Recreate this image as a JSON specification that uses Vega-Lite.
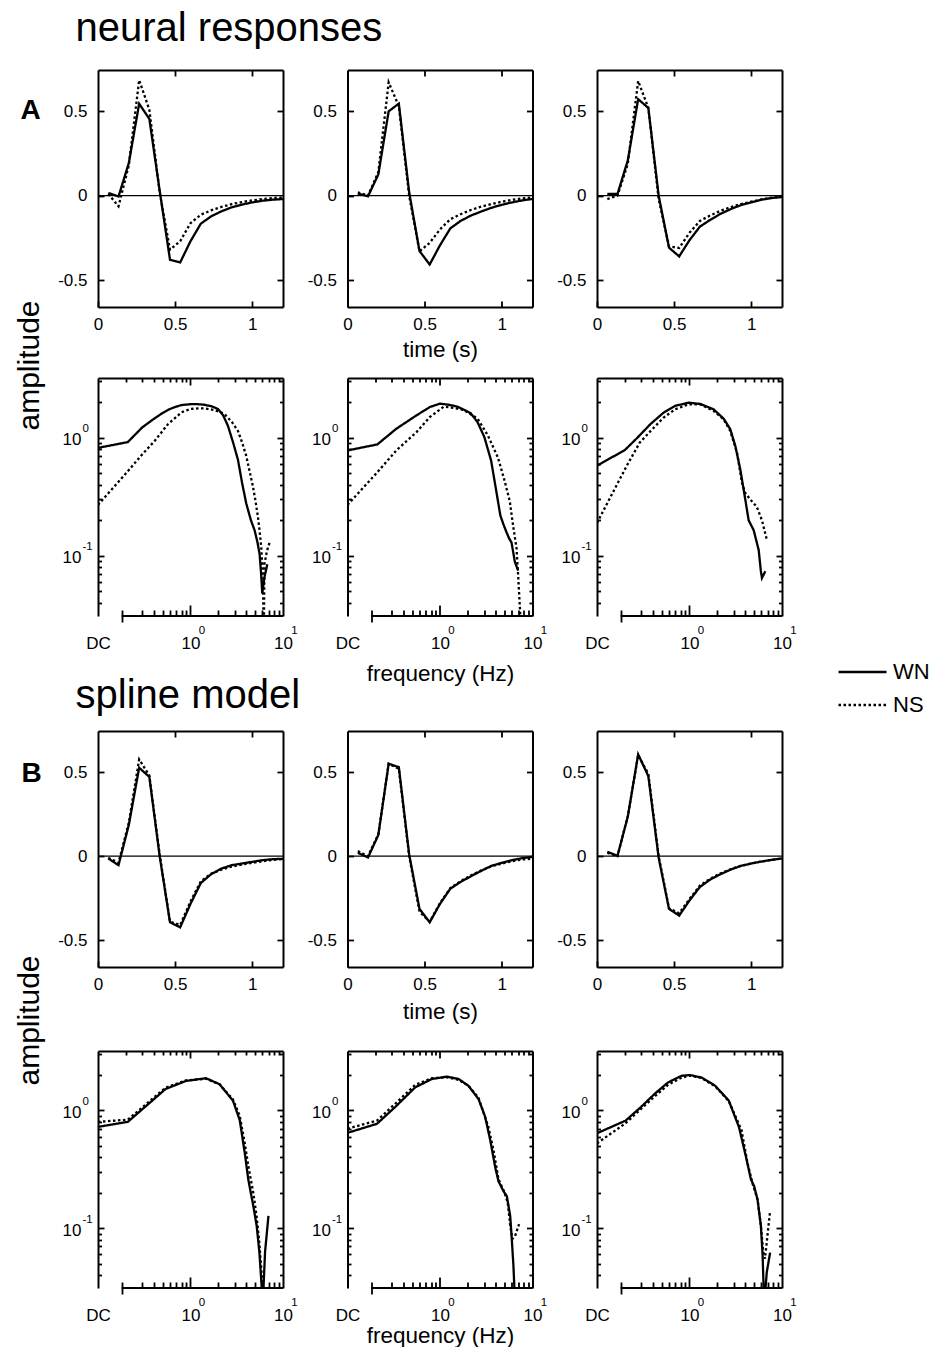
{
"$schema":"https://vega.github.io/schema/vega-lite/v6.json",
"background":"white",
"padding":{"left":14,"top":8,"right":0,"bottom":0},
"autosize":{"type":"pad"},
"columns":3,
"spacing":{"row":0,"column":64.5},
"bounds":"flush",
"datasets":{
"t":[
{"p":"A1","s":"WN","x":0.067,"y":0.016},{"p":"A1","s":"WN","x":0.133,"y":-0.005},{"p":"A1","s":"WN","x":0.2,"y":0.194},{"p":"A1","s":"WN","x":0.267,"y":0.545},{"p":"A1","s":"WN","x":0.333,"y":0.455},{"p":"A1","s":"WN","x":0.4,"y":0.03},{"p":"A1","s":"WN","x":0.467,"y":-0.38},{"p":"A1","s":"WN","x":0.533,"y":-0.396},{"p":"A1","s":"WN","x":0.6,"y":-0.27},{"p":"A1","s":"WN","x":0.667,"y":-0.166},{"p":"A1","s":"WN","x":0.733,"y":-0.123},{"p":"A1","s":"WN","x":0.8,"y":-0.093},{"p":"A1","s":"WN","x":0.867,"y":-0.069},{"p":"A1","s":"WN","x":0.933,"y":-0.053},{"p":"A1","s":"WN","x":1.0,"y":-0.04},{"p":"A1","s":"WN","x":1.067,"y":-0.03},{"p":"A1","s":"WN","x":1.133,"y":-0.024},{"p":"A1","s":"WN","x":1.2,"y":-0.02},
{"p":"A1","s":"NS","x":0.067,"y":0.01},{"p":"A1","s":"NS","x":0.133,"y":-0.063},{"p":"A1","s":"NS","x":0.2,"y":0.18},{"p":"A1","s":"NS","x":0.267,"y":0.685},{"p":"A1","s":"NS","x":0.333,"y":0.51},{"p":"A1","s":"NS","x":0.4,"y":0.02},{"p":"A1","s":"NS","x":0.467,"y":-0.32},{"p":"A1","s":"NS","x":0.533,"y":-0.27},{"p":"A1","s":"NS","x":0.6,"y":-0.163},{"p":"A1","s":"NS","x":0.667,"y":-0.113},{"p":"A1","s":"NS","x":0.733,"y":-0.087},{"p":"A1","s":"NS","x":0.8,"y":-0.067},{"p":"A1","s":"NS","x":0.867,"y":-0.05},{"p":"A1","s":"NS","x":0.933,"y":-0.038},{"p":"A1","s":"NS","x":1.0,"y":-0.028},{"p":"A1","s":"NS","x":1.067,"y":-0.02},{"p":"A1","s":"NS","x":1.133,"y":-0.014},{"p":"A1","s":"NS","x":1.2,"y":-0.01},
{"p":"A2","s":"WN","x":0.067,"y":0.012},{"p":"A2","s":"WN","x":0.133,"y":-0.004},{"p":"A2","s":"WN","x":0.2,"y":0.126},{"p":"A2","s":"WN","x":0.267,"y":0.5},{"p":"A2","s":"WN","x":0.333,"y":0.546},{"p":"A2","s":"WN","x":0.4,"y":0.02},{"p":"A2","s":"WN","x":0.467,"y":-0.328},{"p":"A2","s":"WN","x":0.533,"y":-0.408},{"p":"A2","s":"WN","x":0.6,"y":-0.294},{"p":"A2","s":"WN","x":0.667,"y":-0.194},{"p":"A2","s":"WN","x":0.733,"y":-0.15},{"p":"A2","s":"WN","x":0.8,"y":-0.118},{"p":"A2","s":"WN","x":0.867,"y":-0.094},{"p":"A2","s":"WN","x":0.933,"y":-0.072},{"p":"A2","s":"WN","x":1.0,"y":-0.054},{"p":"A2","s":"WN","x":1.067,"y":-0.04},{"p":"A2","s":"WN","x":1.133,"y":-0.028},{"p":"A2","s":"WN","x":1.2,"y":-0.02},
{"p":"A2","s":"NS","x":0.067,"y":0.02},{"p":"A2","s":"NS","x":0.133,"y":0.0},{"p":"A2","s":"NS","x":0.2,"y":0.14},{"p":"A2","s":"NS","x":0.267,"y":0.672},{"p":"A2","s":"NS","x":0.333,"y":0.53},{"p":"A2","s":"NS","x":0.4,"y":0.0},{"p":"A2","s":"NS","x":0.467,"y":-0.33},{"p":"A2","s":"NS","x":0.533,"y":-0.28},{"p":"A2","s":"NS","x":0.6,"y":-0.2},{"p":"A2","s":"NS","x":0.667,"y":-0.14},{"p":"A2","s":"NS","x":0.733,"y":-0.11},{"p":"A2","s":"NS","x":0.8,"y":-0.085},{"p":"A2","s":"NS","x":0.867,"y":-0.065},{"p":"A2","s":"NS","x":0.933,"y":-0.05},{"p":"A2","s":"NS","x":1.0,"y":-0.036},{"p":"A2","s":"NS","x":1.067,"y":-0.025},{"p":"A2","s":"NS","x":1.133,"y":-0.016},{"p":"A2","s":"NS","x":1.2,"y":-0.01},
{"p":"A3","s":"WN","x":0.067,"y":0.01},{"p":"A3","s":"WN","x":0.133,"y":0.01},{"p":"A3","s":"WN","x":0.2,"y":0.21},{"p":"A3","s":"WN","x":0.267,"y":0.572},{"p":"A3","s":"WN","x":0.333,"y":0.52},{"p":"A3","s":"WN","x":0.4,"y":0.0},{"p":"A3","s":"WN","x":0.467,"y":-0.308},{"p":"A3","s":"WN","x":0.533,"y":-0.36},{"p":"A3","s":"WN","x":0.6,"y":-0.264},{"p":"A3","s":"WN","x":0.667,"y":-0.184},{"p":"A3","s":"WN","x":0.733,"y":-0.144},{"p":"A3","s":"WN","x":0.8,"y":-0.108},{"p":"A3","s":"WN","x":0.867,"y":-0.08},{"p":"A3","s":"WN","x":0.933,"y":-0.056},{"p":"A3","s":"WN","x":1.0,"y":-0.04},{"p":"A3","s":"WN","x":1.067,"y":-0.024},{"p":"A3","s":"WN","x":1.133,"y":-0.014},{"p":"A3","s":"WN","x":1.2,"y":-0.008},
{"p":"A3","s":"NS","x":0.067,"y":-0.02},{"p":"A3","s":"NS","x":0.133,"y":0.0},{"p":"A3","s":"NS","x":0.2,"y":0.19},{"p":"A3","s":"NS","x":0.267,"y":0.68},{"p":"A3","s":"NS","x":0.333,"y":0.52},{"p":"A3","s":"NS","x":0.4,"y":-0.02},{"p":"A3","s":"NS","x":0.467,"y":-0.3},{"p":"A3","s":"NS","x":0.533,"y":-0.31},{"p":"A3","s":"NS","x":0.6,"y":-0.22},{"p":"A3","s":"NS","x":0.667,"y":-0.15},{"p":"A3","s":"NS","x":0.733,"y":-0.118},{"p":"A3","s":"NS","x":0.8,"y":-0.09},{"p":"A3","s":"NS","x":0.867,"y":-0.068},{"p":"A3","s":"NS","x":0.933,"y":-0.05},{"p":"A3","s":"NS","x":1.0,"y":-0.036},{"p":"A3","s":"NS","x":1.067,"y":-0.022},{"p":"A3","s":"NS","x":1.133,"y":-0.012},{"p":"A3","s":"NS","x":1.2,"y":-0.005},
{"p":"B1","s":"WN","x":0.067,"y":-0.014},{"p":"B1","s":"WN","x":0.133,"y":-0.054},{"p":"B1","s":"WN","x":0.2,"y":0.186},{"p":"B1","s":"WN","x":0.267,"y":0.526},{"p":"B1","s":"WN","x":0.333,"y":0.472},{"p":"B1","s":"WN","x":0.4,"y":0.0},{"p":"B1","s":"WN","x":0.467,"y":-0.394},{"p":"B1","s":"WN","x":0.533,"y":-0.424},{"p":"B1","s":"WN","x":0.6,"y":-0.284},{"p":"B1","s":"WN","x":0.667,"y":-0.16},{"p":"B1","s":"WN","x":0.733,"y":-0.108},{"p":"B1","s":"WN","x":0.8,"y":-0.074},{"p":"B1","s":"WN","x":0.867,"y":-0.054},{"p":"B1","s":"WN","x":0.933,"y":-0.044},{"p":"B1","s":"WN","x":1.0,"y":-0.034},{"p":"B1","s":"WN","x":1.067,"y":-0.024},{"p":"B1","s":"WN","x":1.133,"y":-0.018},{"p":"B1","s":"WN","x":1.2,"y":-0.016},
{"p":"B1","s":"NS","x":0.067,"y":-0.01},{"p":"B1","s":"NS","x":0.133,"y":-0.04},{"p":"B1","s":"NS","x":0.2,"y":0.2},{"p":"B1","s":"NS","x":0.267,"y":0.576},{"p":"B1","s":"NS","x":0.333,"y":0.48},{"p":"B1","s":"NS","x":0.4,"y":0.01},{"p":"B1","s":"NS","x":0.467,"y":-0.39},{"p":"B1","s":"NS","x":0.533,"y":-0.41},{"p":"B1","s":"NS","x":0.6,"y":-0.27},{"p":"B1","s":"NS","x":0.667,"y":-0.15},{"p":"B1","s":"NS","x":0.733,"y":-0.105},{"p":"B1","s":"NS","x":0.8,"y":-0.08},{"p":"B1","s":"NS","x":0.867,"y":-0.062},{"p":"B1","s":"NS","x":0.933,"y":-0.05},{"p":"B1","s":"NS","x":1.0,"y":-0.04},{"p":"B1","s":"NS","x":1.067,"y":-0.03},{"p":"B1","s":"NS","x":1.133,"y":-0.022},{"p":"B1","s":"NS","x":1.2,"y":-0.018},
{"p":"B2","s":"WN","x":0.067,"y":0.02},{"p":"B2","s":"WN","x":0.133,"y":-0.008},{"p":"B2","s":"WN","x":0.2,"y":0.126},{"p":"B2","s":"WN","x":0.267,"y":0.55},{"p":"B2","s":"WN","x":0.333,"y":0.53},{"p":"B2","s":"WN","x":0.4,"y":0.01},{"p":"B2","s":"WN","x":0.467,"y":-0.314},{"p":"B2","s":"WN","x":0.533,"y":-0.394},{"p":"B2","s":"WN","x":0.6,"y":-0.284},{"p":"B2","s":"WN","x":0.667,"y":-0.194},{"p":"B2","s":"WN","x":0.733,"y":-0.154},{"p":"B2","s":"WN","x":0.8,"y":-0.12},{"p":"B2","s":"WN","x":0.867,"y":-0.088},{"p":"B2","s":"WN","x":0.933,"y":-0.058},{"p":"B2","s":"WN","x":1.0,"y":-0.04},{"p":"B2","s":"WN","x":1.067,"y":-0.024},{"p":"B2","s":"WN","x":1.133,"y":-0.012},{"p":"B2","s":"WN","x":1.2,"y":-0.004},
{"p":"B2","s":"NS","x":0.067,"y":0.03},{"p":"B2","s":"NS","x":0.133,"y":0.0},{"p":"B2","s":"NS","x":0.2,"y":0.13},{"p":"B2","s":"NS","x":0.267,"y":0.55},{"p":"B2","s":"NS","x":0.333,"y":0.52},{"p":"B2","s":"NS","x":0.4,"y":0.0},{"p":"B2","s":"NS","x":0.467,"y":-0.33},{"p":"B2","s":"NS","x":0.533,"y":-0.39},{"p":"B2","s":"NS","x":0.6,"y":-0.28},{"p":"B2","s":"NS","x":0.667,"y":-0.19},{"p":"B2","s":"NS","x":0.733,"y":-0.15},{"p":"B2","s":"NS","x":0.8,"y":-0.115},{"p":"B2","s":"NS","x":0.867,"y":-0.085},{"p":"B2","s":"NS","x":0.933,"y":-0.06},{"p":"B2","s":"NS","x":1.0,"y":-0.045},{"p":"B2","s":"NS","x":1.067,"y":-0.03},{"p":"B2","s":"NS","x":1.133,"y":-0.02},{"p":"B2","s":"NS","x":1.2,"y":-0.015},
{"p":"B3","s":"WN","x":0.067,"y":0.026},{"p":"B3","s":"WN","x":0.133,"y":0.002},{"p":"B3","s":"WN","x":0.2,"y":0.236},{"p":"B3","s":"WN","x":0.267,"y":0.606},{"p":"B3","s":"WN","x":0.333,"y":0.476},{"p":"B3","s":"WN","x":0.4,"y":-0.01},{"p":"B3","s":"WN","x":0.467,"y":-0.314},{"p":"B3","s":"WN","x":0.533,"y":-0.354},{"p":"B3","s":"WN","x":0.6,"y":-0.264},{"p":"B3","s":"WN","x":0.667,"y":-0.184},{"p":"B3","s":"WN","x":0.733,"y":-0.14},{"p":"B3","s":"WN","x":0.8,"y":-0.108},{"p":"B3","s":"WN","x":0.867,"y":-0.08},{"p":"B3","s":"WN","x":0.933,"y":-0.058},{"p":"B3","s":"WN","x":1.0,"y":-0.044},{"p":"B3","s":"WN","x":1.067,"y":-0.032},{"p":"B3","s":"WN","x":1.133,"y":-0.022},{"p":"B3","s":"WN","x":1.2,"y":-0.014},
{"p":"B3","s":"NS","x":0.067,"y":0.02},{"p":"B3","s":"NS","x":0.133,"y":0.0},{"p":"B3","s":"NS","x":0.2,"y":0.24},{"p":"B3","s":"NS","x":0.267,"y":0.6},{"p":"B3","s":"NS","x":0.333,"y":0.49},{"p":"B3","s":"NS","x":0.4,"y":0.0},{"p":"B3","s":"NS","x":0.467,"y":-0.31},{"p":"B3","s":"NS","x":0.533,"y":-0.34},{"p":"B3","s":"NS","x":0.6,"y":-0.255},{"p":"B3","s":"NS","x":0.667,"y":-0.175},{"p":"B3","s":"NS","x":0.733,"y":-0.135},{"p":"B3","s":"NS","x":0.8,"y":-0.103},{"p":"B3","s":"NS","x":0.867,"y":-0.078},{"p":"B3","s":"NS","x":0.933,"y":-0.058},{"p":"B3","s":"NS","x":1.0,"y":-0.044},{"p":"B3","s":"NS","x":1.067,"y":-0.032},{"p":"B3","s":"NS","x":1.133,"y":-0.022},{"p":"B3","s":"NS","x":1.2,"y":-0.014}
],
"f":[
{"p":"A1","s":"WN","x":0.1,"y":0.82},{"p":"A1","s":"WN","x":0.21,"y":0.918},{"p":"A1","s":"WN","x":0.3,"y":1.22},{"p":"A1","s":"WN","x":0.4,"y":1.44},{"p":"A1","s":"WN","x":0.5,"y":1.62},{"p":"A1","s":"WN","x":0.6,"y":1.75},{"p":"A1","s":"WN","x":0.7,"y":1.83},{"p":"A1","s":"WN","x":0.8,"y":1.89},{"p":"A1","s":"WN","x":1.0,"y":1.92},{"p":"A1","s":"WN","x":1.2,"y":1.92},{"p":"A1","s":"WN","x":1.42,"y":1.9},{"p":"A1","s":"WN","x":1.7,"y":1.84},{"p":"A1","s":"WN","x":1.98,"y":1.75},{"p":"A1","s":"WN","x":2.25,"y":1.55},{"p":"A1","s":"WN","x":2.54,"y":1.26},{"p":"A1","s":"WN","x":2.9,"y":0.9},{"p":"A1","s":"WN","x":3.26,"y":0.65},{"p":"A1","s":"WN","x":3.6,"y":0.42},{"p":"A1","s":"WN","x":4.01,"y":0.277},{"p":"A1","s":"WN","x":4.5,"y":0.2},{"p":"A1","s":"WN","x":4.94,"y":0.164},{"p":"A1","s":"WN","x":5.3,"y":0.13},{"p":"A1","s":"WN","x":5.59,"y":0.103},{"p":"A1","s":"WN","x":5.8,"y":0.07},{"p":"A1","s":"WN","x":5.97,"y":0.048},{"p":"A1","s":"WN","x":6.3,"y":0.066},{"p":"A1","s":"WN","x":6.77,"y":0.085},
{"p":"A1","s":"NS","x":0.1,"y":0.27},{"p":"A1","s":"NS","x":0.21,"y":0.52},{"p":"A1","s":"NS","x":0.29,"y":0.7},{"p":"A1","s":"NS","x":0.41,"y":0.94},{"p":"A1","s":"NS","x":0.57,"y":1.3},{"p":"A1","s":"NS","x":0.8,"y":1.64},{"p":"A1","s":"NS","x":1.0,"y":1.75},{"p":"A1","s":"NS","x":1.2,"y":1.77},{"p":"A1","s":"NS","x":1.42,"y":1.77},{"p":"A1","s":"NS","x":1.7,"y":1.73},{"p":"A1","s":"NS","x":2.0,"y":1.67},{"p":"A1","s":"NS","x":2.34,"y":1.58},{"p":"A1","s":"NS","x":2.8,"y":1.36},{"p":"A1","s":"NS","x":3.26,"y":1.14},{"p":"A1","s":"NS","x":3.6,"y":0.92},{"p":"A1","s":"NS","x":4.01,"y":0.7},{"p":"A1","s":"NS","x":4.4,"y":0.5},{"p":"A1","s":"NS","x":4.74,"y":0.385},{"p":"A1","s":"NS","x":5.05,"y":0.29},{"p":"A1","s":"NS","x":5.36,"y":0.213},{"p":"A1","s":"NS","x":5.6,"y":0.16},{"p":"A1","s":"NS","x":5.82,"y":0.118},{"p":"A1","s":"NS","x":6.07,"y":0.065},{"p":"A1","s":"NS","x":6.2,"y":0.02},{"p":"A1","s":"NS","x":6.3,"y":0.085},{"p":"A1","s":"NS","x":6.7,"y":0.11},{"p":"A1","s":"NS","x":7.17,"y":0.13},
{"p":"A2","s":"WN","x":0.1,"y":0.78},{"p":"A2","s":"WN","x":0.21,"y":0.877},{"p":"A2","s":"WN","x":0.337,"y":1.19},{"p":"A2","s":"WN","x":0.56,"y":1.55},{"p":"A2","s":"WN","x":0.78,"y":1.82},{"p":"A2","s":"WN","x":1.0,"y":1.94},{"p":"A2","s":"WN","x":1.25,"y":1.9},{"p":"A2","s":"WN","x":1.54,"y":1.83},{"p":"A2","s":"WN","x":1.8,"y":1.73},{"p":"A2","s":"WN","x":2.15,"y":1.61},{"p":"A2","s":"WN","x":2.55,"y":1.35},{"p":"A2","s":"WN","x":3.02,"y":1.01},{"p":"A2","s":"WN","x":3.57,"y":0.64},{"p":"A2","s":"WN","x":4.12,"y":0.33},{"p":"A2","s":"WN","x":4.49,"y":0.22},{"p":"A2","s":"WN","x":4.85,"y":0.185},{"p":"A2","s":"WN","x":5.21,"y":0.16},{"p":"A2","s":"WN","x":5.6,"y":0.14},{"p":"A2","s":"WN","x":5.93,"y":0.13},{"p":"A2","s":"WN","x":6.45,"y":0.089},{"p":"A2","s":"WN","x":7.0,"y":0.075},
{"p":"A2","s":"NS","x":0.1,"y":0.27},{"p":"A2","s":"NS","x":0.21,"y":0.51},{"p":"A2","s":"NS","x":0.337,"y":0.78},{"p":"A2","s":"NS","x":0.56,"y":1.12},{"p":"A2","s":"NS","x":0.78,"y":1.5},{"p":"A2","s":"NS","x":1.1,"y":1.83},{"p":"A2","s":"NS","x":1.4,"y":1.79},{"p":"A2","s":"NS","x":1.82,"y":1.71},{"p":"A2","s":"NS","x":2.55,"y":1.45},{"p":"A2","s":"NS","x":3.28,"y":1.05},{"p":"A2","s":"NS","x":4.23,"y":0.68},{"p":"A2","s":"NS","x":5.0,"y":0.43},{"p":"A2","s":"NS","x":5.68,"y":0.29},{"p":"A2","s":"NS","x":6.17,"y":0.18},{"p":"A2","s":"NS","x":6.72,"y":0.116},{"p":"A2","s":"NS","x":7.0,"y":0.068},{"p":"A2","s":"NS","x":7.5,"y":0.025},
{"p":"A3","s":"WN","x":0.1,"y":0.58},{"p":"A3","s":"WN","x":0.2,"y":0.786},{"p":"A3","s":"WN","x":0.27,"y":0.99},{"p":"A3","s":"WN","x":0.377,"y":1.3},{"p":"A3","s":"WN","x":0.525,"y":1.63},{"p":"A3","s":"WN","x":0.7,"y":1.86},{"p":"A3","s":"WN","x":0.98,"y":1.98},{"p":"A3","s":"WN","x":1.31,"y":1.93},{"p":"A3","s":"WN","x":1.82,"y":1.74},{"p":"A3","s":"WN","x":2.34,"y":1.45},{"p":"A3","s":"WN","x":2.76,"y":1.18},{"p":"A3","s":"WN","x":3.13,"y":0.85},{"p":"A3","s":"WN","x":3.54,"y":0.54},{"p":"A3","s":"WN","x":4.01,"y":0.3},{"p":"A3","s":"WN","x":4.36,"y":0.2},{"p":"A3","s":"WN","x":4.94,"y":0.165},{"p":"A3","s":"WN","x":5.6,"y":0.112},{"p":"A3","s":"WN","x":5.9,"y":0.075},{"p":"A3","s":"WN","x":6.07,"y":0.065},{"p":"A3","s":"WN","x":6.6,"y":0.074},
{"p":"A3","s":"NS","x":0.1,"y":0.19},{"p":"A3","s":"NS","x":0.21,"y":0.58},{"p":"A3","s":"NS","x":0.29,"y":0.91},{"p":"A3","s":"NS","x":0.38,"y":1.14},{"p":"A3","s":"NS","x":0.525,"y":1.48},{"p":"A3","s":"NS","x":0.7,"y":1.74},{"p":"A3","s":"NS","x":0.98,"y":1.92},{"p":"A3","s":"NS","x":1.31,"y":1.91},{"p":"A3","s":"NS","x":1.82,"y":1.69},{"p":"A3","s":"NS","x":2.34,"y":1.43},{"p":"A3","s":"NS","x":2.76,"y":1.14},{"p":"A3","s":"NS","x":3.26,"y":0.75},{"p":"A3","s":"NS","x":3.69,"y":0.415},{"p":"A3","s":"NS","x":4.01,"y":0.34},{"p":"A3","s":"NS","x":4.54,"y":0.3},{"p":"A3","s":"NS","x":5.34,"y":0.26},{"p":"A3","s":"NS","x":6.07,"y":0.2},{"p":"A3","s":"NS","x":6.86,"y":0.137},
{"p":"B1","s":"WN","x":0.1,"y":0.725},{"p":"B1","s":"WN","x":0.21,"y":0.8},{"p":"B1","s":"WN","x":0.353,"y":1.14},{"p":"B1","s":"WN","x":0.537,"y":1.52},{"p":"B1","s":"WN","x":0.889,"y":1.78},{"p":"B1","s":"WN","x":1.47,"y":1.88},{"p":"B1","s":"WN","x":2.06,"y":1.67},{"p":"B1","s":"WN","x":2.88,"y":1.21},{"p":"B1","s":"WN","x":3.41,"y":0.825},{"p":"B1","s":"WN","x":3.87,"y":0.43},{"p":"B1","s":"WN","x":4.21,"y":0.26},{"p":"B1","s":"WN","x":4.77,"y":0.155},{"p":"B1","s":"WN","x":5.19,"y":0.105},{"p":"B1","s":"WN","x":5.55,"y":0.063},{"p":"B1","s":"WN","x":5.89,"y":0.031},{"p":"B1","s":"WN","x":6.0,"y":0.02},{"p":"B1","s":"WN","x":6.14,"y":0.03},{"p":"B1","s":"WN","x":6.4,"y":0.063},{"p":"B1","s":"WN","x":6.96,"y":0.127},
{"p":"B1","s":"NS","x":0.1,"y":0.8},{"p":"B1","s":"NS","x":0.21,"y":0.835},{"p":"B1","s":"NS","x":0.353,"y":1.18},{"p":"B1","s":"NS","x":0.537,"y":1.56},{"p":"B1","s":"NS","x":0.889,"y":1.8},{"p":"B1","s":"NS","x":1.47,"y":1.86},{"p":"B1","s":"NS","x":2.06,"y":1.67},{"p":"B1","s":"NS","x":2.88,"y":1.24},{"p":"B1","s":"NS","x":3.41,"y":0.9},{"p":"B1","s":"NS","x":3.87,"y":0.52},{"p":"B1","s":"NS","x":4.21,"y":0.34},{"p":"B1","s":"NS","x":4.77,"y":0.2},{"p":"B1","s":"NS","x":5.19,"y":0.125},{"p":"B1","s":"NS","x":5.55,"y":0.075},{"p":"B1","s":"NS","x":5.89,"y":0.04},{"p":"B1","s":"NS","x":6.1,"y":0.025},
{"p":"B2","s":"WN","x":0.1,"y":0.645},{"p":"B2","s":"WN","x":0.208,"y":0.77},{"p":"B2","s":"WN","x":0.328,"y":1.07},{"p":"B2","s":"WN","x":0.539,"y":1.57},{"p":"B2","s":"WN","x":0.816,"y":1.85},{"p":"B2","s":"WN","x":1.19,"y":1.94},{"p":"B2","s":"WN","x":1.59,"y":1.85},{"p":"B2","s":"WN","x":2.03,"y":1.62},{"p":"B2","s":"WN","x":2.61,"y":1.25},{"p":"B2","s":"WN","x":3.08,"y":0.88},{"p":"B2","s":"WN","x":3.49,"y":0.56},{"p":"B2","s":"WN","x":3.95,"y":0.33},{"p":"B2","s":"WN","x":4.29,"y":0.25},{"p":"B2","s":"WN","x":4.86,"y":0.206},{"p":"B2","s":"WN","x":5.28,"y":0.187},{"p":"B2","s":"WN","x":5.74,"y":0.127},{"p":"B2","s":"WN","x":5.97,"y":0.081},{"p":"B2","s":"WN","x":6.22,"y":0.048},{"p":"B2","s":"WN","x":6.36,"y":0.032},{"p":"B2","s":"WN","x":6.45,"y":0.025},
{"p":"B2","s":"NS","x":0.1,"y":0.7},{"p":"B2","s":"NS","x":0.208,"y":0.82},{"p":"B2","s":"NS","x":0.328,"y":1.14},{"p":"B2","s":"NS","x":0.539,"y":1.65},{"p":"B2","s":"NS","x":0.816,"y":1.88},{"p":"B2","s":"NS","x":1.19,"y":1.91},{"p":"B2","s":"NS","x":1.59,"y":1.82},{"p":"B2","s":"NS","x":2.03,"y":1.62},{"p":"B2","s":"NS","x":2.61,"y":1.28},{"p":"B2","s":"NS","x":3.34,"y":0.72},{"p":"B2","s":"NS","x":3.79,"y":0.46},{"p":"B2","s":"NS","x":4.29,"y":0.26},{"p":"B2","s":"NS","x":4.86,"y":0.21},{"p":"B2","s":"NS","x":5.4,"y":0.165},{"p":"B2","s":"NS","x":5.74,"y":0.105},{"p":"B2","s":"NS","x":6.06,"y":0.081},{"p":"B2","s":"NS","x":6.49,"y":0.086},{"p":"B2","s":"NS","x":7.16,"y":0.108},
{"p":"B3","s":"WN","x":0.1,"y":0.64},{"p":"B3","s":"WN","x":0.204,"y":0.82},{"p":"B3","s":"WN","x":0.299,"y":1.07},{"p":"B3","s":"WN","x":0.418,"y":1.38},{"p":"B3","s":"WN","x":0.586,"y":1.73},{"p":"B3","s":"WN","x":0.82,"y":1.97},{"p":"B3","s":"WN","x":1.01,"y":2.0},{"p":"B3","s":"WN","x":1.36,"y":1.9},{"p":"B3","s":"WN","x":1.9,"y":1.62},{"p":"B3","s":"WN","x":2.66,"y":1.21},{"p":"B3","s":"WN","x":3.43,"y":0.72},{"p":"B3","s":"WN","x":4.06,"y":0.41},{"p":"B3","s":"WN","x":4.61,"y":0.26},{"p":"B3","s":"WN","x":5.0,"y":0.227},{"p":"B3","s":"WN","x":5.44,"y":0.175},{"p":"B3","s":"WN","x":5.91,"y":0.105},{"p":"B3","s":"WN","x":6.17,"y":0.059},{"p":"B3","s":"WN","x":6.34,"y":0.03},{"p":"B3","s":"WN","x":6.5,"y":0.025},{"p":"B3","s":"WN","x":6.84,"y":0.042},{"p":"B3","s":"WN","x":7.44,"y":0.062},
{"p":"B3","s":"NS","x":0.1,"y":0.525},{"p":"B3","s":"NS","x":0.204,"y":0.78},{"p":"B3","s":"NS","x":0.299,"y":1.03},{"p":"B3","s":"NS","x":0.418,"y":1.31},{"p":"B3","s":"NS","x":0.586,"y":1.65},{"p":"B3","s":"NS","x":0.82,"y":1.9},{"p":"B3","s":"NS","x":1.01,"y":1.98},{"p":"B3","s":"NS","x":1.36,"y":1.88},{"p":"B3","s":"NS","x":1.9,"y":1.6},{"p":"B3","s":"NS","x":2.66,"y":1.2},{"p":"B3","s":"NS","x":3.65,"y":0.68},{"p":"B3","s":"NS","x":4.23,"y":0.36},{"p":"B3","s":"NS","x":4.8,"y":0.24},{"p":"B3","s":"NS","x":5.44,"y":0.175},{"p":"B3","s":"NS","x":5.91,"y":0.105},{"p":"B3","s":"NS","x":6.27,"y":0.063},{"p":"B3","s":"NS","x":6.55,"y":0.055},{"p":"B3","s":"NS","x":7.0,"y":0.09},{"p":"B3","s":"NS","x":7.44,"y":0.14}
]
},
"concat":[
{"width":185,"height":237,"layer":[
 {"data":{"values":[{}]},"mark":{"type":"rule","color":"black","strokeWidth":1.3},"encoding":{
  "x":{"datum":0,"type":"quantitative","scale":{"domain":[0,1.2],"nice":false,"zero":false},"axis":{"orient":"top","values":[0.5,1],"labels":false,"tickSize":-6,"title":"neural responses","titleFontSize":40,"titleAlign":"left","titleBaseline":"alphabetic","titleX":-23,"titleY":-30,"titleAngle":0}},
  "x2":{"datum":1.2},
  "y":{"datum":0,"type":"quantitative","scale":{"domain":[-0.66,0.745],"nice":false,"zero":false},"axis":{"orient":"right","values":[-0.5,0.5],"labels":false,"tickSize":-6,"title":null}}}},
 {"data":{"name":"t"},"transform":[{"filter":"datum.p == 'A1'"}],"mark":{"type":"line","color":"black","strokeWidth":2.3,"clip":true},"encoding":{
  "x":{"field":"x","type":"quantitative","scale":{"domain":[0,1.2],"nice":false,"zero":false},"axis":{"orient":"bottom","values":[0,0.5,1],"tickSize":-6,"labelPadding":15,"labelExpr":"datum.value == 0 ? '0' : datum.value == 1 ? '1' : '0.5'","title":null}},
  "y":{"field":"y","type":"quantitative","scale":{"domain":[-0.66,0.745],"nice":false,"zero":false},"axis":{"orient":"left","values":[-0.5,0,0.5],"tickSize":-6,"labelPadding":17,"labelExpr":"datum.value == 0 ? '0' : datum.value > 0 ? '0.5' : '-0.5'","title":"A","titleAngle":0,"titleFontSize":28,"titleFontWeight":"bold","titleAlign":"left","titleBaseline":"alphabetic","titleX":-78,"titleY":48}},
  "strokeDash":{"field":"s","type":"nominal","scale":{"domain":["WN","NS"],"range":[[1,0],[2.5,2.5]]},"legend":{"orient":"none","legendX":739,"legendY":591,"title":null,"symbolType":"stroke","symbolSize":2304,"symbolStrokeWidth":2.4,"symbolStrokeColor":"black","labelFontSize":22,"labelFont":"Liberation Sans","labelColor":"black","clipHeight":22,"rowPadding":11,"labelOffset":5}}}}
 ],"resolve":{"axis":{"x":"independent","y":"independent"}}},
{"width":185,"height":237,"layer":[
 {"data":{"values":[{}]},"mark":{"type":"rule","color":"black","strokeWidth":1.3},"encoding":{
  "x":{"datum":0,"type":"quantitative","scale":{"domain":[0,1.2],"nice":false,"zero":false},"axis":{"orient":"top","values":[0.5,1],"labels":false,"tickSize":-6,"title":null}},
  "x2":{"datum":1.2},
  "y":{"datum":0,"type":"quantitative","scale":{"domain":[-0.66,0.745],"nice":false,"zero":false},"axis":{"orient":"right","values":[-0.5,0.5],"labels":false,"tickSize":-6,"title":null}}}},
 {"data":{"name":"t"},"transform":[{"filter":"datum.p == 'A2'"}],"mark":{"type":"line","color":"black","strokeWidth":2.3,"clip":true},"encoding":{
  "x":{"field":"x","type":"quantitative","scale":{"domain":[0,1.2],"nice":false,"zero":false},"axis":{"orient":"bottom","values":[0,0.5,1],"tickSize":-6,"labelPadding":15,"labelExpr":"datum.value == 0 ? '0' : datum.value == 1 ? '1' : '0.5'","title":"time (s)","titleFontSize":22.5,"titleBaseline":"alphabetic","titleY":49.5}},
  "y":{"field":"y","type":"quantitative","scale":{"domain":[-0.66,0.745],"nice":false,"zero":false},"axis":{"orient":"left","values":[-0.5,0,0.5],"tickSize":-6,"labelPadding":17,"labelExpr":"datum.value == 0 ? '0' : datum.value > 0 ? '0.5' : '-0.5'","title":null}},
  "strokeDash":{"field":"s","type":"nominal","scale":{"domain":["WN","NS"],"range":[[1,0],[2.5,2.5]]},"legend":null}}}
 ],"resolve":{"axis":{"x":"independent","y":"independent"}}},
{"width":185,"height":237,"layer":[
 {"data":{"values":[{}]},"mark":{"type":"rule","color":"black","strokeWidth":1.3},"encoding":{
  "x":{"datum":0,"type":"quantitative","scale":{"domain":[0,1.2],"nice":false,"zero":false},"axis":{"orient":"top","values":[0.5,1],"labels":false,"tickSize":-6,"title":null}},
  "x2":{"datum":1.2},
  "y":{"datum":0,"type":"quantitative","scale":{"domain":[-0.66,0.745],"nice":false,"zero":false},"axis":{"orient":"right","values":[-0.5,0.5],"labels":false,"tickSize":-6,"title":null}}}},
 {"data":{"name":"t"},"transform":[{"filter":"datum.p == 'A3'"}],"mark":{"type":"line","color":"black","strokeWidth":2.3,"clip":true},"encoding":{
  "x":{"field":"x","type":"quantitative","scale":{"domain":[0,1.2],"nice":false,"zero":false},"axis":{"orient":"bottom","values":[0,0.5,1],"tickSize":-6,"labelPadding":15,"labelExpr":"datum.value == 0 ? '0' : datum.value == 1 ? '1' : '0.5'","title":null}},
  "y":{"field":"y","type":"quantitative","scale":{"domain":[-0.66,0.745],"nice":false,"zero":false},"axis":{"orient":"left","values":[-0.5,0,0.5],"tickSize":-6,"labelPadding":17,"labelExpr":"datum.value == 0 ? '0' : datum.value > 0 ? '0.5' : '-0.5'","title":null}},
  "strokeDash":{"field":"s","type":"nominal","scale":{"domain":["WN","NS"],"range":[[1,0],[2.5,2.5]]},"legend":null}}}
 ],"resolve":{"axis":{"x":"independent","y":"independent"}}},
{"width":185,"height":71,"data":{"values":[]},"mark":"point"},
{"width":185,"height":71,"data":{"values":[]},"mark":"point"},
{"width":185,"height":71,"data":{"values":[]},"mark":"point"},
{"width":185,"height":238,"layer":[
 {"data":{"values":[{}]},"mark":{"type":"rule","color":"black","strokeWidth":2},"encoding":{
  "x":{"datum":0.18,"type":"quantitative","scale":{"type":"log","domain":[0.1,10],"nice":false},"axis":{"orient":"bottom","values":[1,10],"ticks":false,"domain":false,"labelPadding":17,"labelBaseline":"alphabetic","labelFontSize":11.5,"labelOffset":11,"labelExpr":"datum.value < 5 ? '0' : '1'","title":null}},
  "x2":{"datum":10},
  "y":{"datum":0.031,"type":"quantitative","scale":{"type":"log","domain":[0.031,3.2],"nice":false},"axis":{"orient":"left","values":[0.1,1],"ticks":false,"domain":false,"labelPadding":16,"labelAlign":"left","labelBaseline":"alphabetic","labelFontSize":11.5,"labelOffset":-6,"labelExpr":"datum.value < 0.5 ? '-1' : '0'","title":null}}}},
 {"data":{"values":[{}]},"mark":{"type":"rule","opacity":0},"encoding":{
  "x":{"datum":0.18,"type":"quantitative","scale":{"type":"log","domain":[0.1,10],"nice":false},"axis":{"orient":"bottom","values":[0.18,0.3,0.4,0.5,0.6,0.7,0.8,0.9,1,2,3,4,5,6,7,8,9],"labels":false,"domain":false,"tickSize":{"condition":{"test":"datum.value == 1","value":-11},"value":-6},"title":null}},
  "x2":{"datum":10},
  "y":{"datum":0.031,"type":"quantitative","scale":{"type":"log","domain":[0.031,3.2],"nice":false},"axis":{"orient":"left","values":[0.04,0.05,0.06,0.07,0.08,0.09,0.1,0.2,0.3,0.4,0.5,0.6,0.7,0.8,0.9,1,2,3],"labels":false,"domain":false,"tickSize":{"condition":{"test":"datum.value == 1 || datum.value == 0.1","value":-6},"value":-3.5},"title":null}}}},
 {"data":{"values":[{}]},"mark":{"type":"rule","opacity":0},"encoding":{
  "x":{"datum":0.18,"type":"quantitative","scale":{"type":"log","domain":[0.1,10],"nice":false},"axis":{"orient":"top","values":[0.2,0.3,0.4,0.5,0.6,0.7,0.8,0.9,1,2,3,4,5,6,7,8,9],"labels":false,"tickSize":{"condition":{"test":"datum.value == 1","value":-7},"value":-4},"title":null}},
  "x2":{"datum":10},
  "y":{"datum":0.031,"type":"quantitative","scale":{"type":"log","domain":[0.031,3.2],"nice":false},"axis":{"orient":"right","values":[0.04,0.05,0.06,0.07,0.08,0.09,0.1,0.2,0.3,0.4,0.5,0.6,0.7,0.8,0.9,1,2,3],"labels":false,"tickSize":{"condition":{"test":"datum.value == 1 || datum.value == 0.1","value":-6},"value":-3.5},"title":null}}}},
 {"data":{"values":[{}]},"mark":{"type":"rule","opacity":0},"encoding":{
  "x":{"datum":0.18,"type":"quantitative","scale":{"type":"log","domain":[0.1,10],"nice":false},"axis":{"orient":"bottom","values":[0.18],"labels":false,"domain":false,"tickSize":6,"title":null}},
  "x2":{"datum":10},
  "y":{"datum":0.031,"type":"quantitative","scale":{"type":"log","domain":[0.031,3.2],"nice":false},"axis":null}}},
 {"data":{"name":"f"},"transform":[{"filter":"datum.p == 'A1'"}],"mark":{"type":"line","color":"black","strokeWidth":2.3,"clip":true},"encoding":{
  "x":{"field":"x","type":"quantitative","scale":{"type":"log","domain":[0.1,10],"nice":false},"axis":{"orient":"bottom","values":[0.1,1,10],"ticks":false,"domain":false,"labelPadding":32,"labelBaseline":"alphabetic","labelExpr":"datum.value < 0.5 ? 'DC' : '10'","title":null}},
  "y":{"field":"y","type":"quantitative","scale":{"type":"log","domain":[0.031,3.2],"nice":false},"axis":{"orient":"left","values":[0.1,1],"ticks":false,"domain":true,"labelPadding":17,"labelBaseline":"middle","labelOffset":2,"labelExpr":"'10'","title":"amplitude","titleFontSize":30,"titleAngle":-90,"titleAlign":"center","titleBaseline":"alphabetic","titleX":-60,"titleY":-13}},
  "strokeDash":{"field":"s","type":"nominal","scale":{"domain":["WN","NS"],"range":[[1,0],[2.5,2.5]]},"legend":null}}}
 ],"resolve":{"axis":{"x":"independent","y":"independent"}}},
{"width":185,"height":238,"layer":[
 {"data":{"values":[{}]},"mark":{"type":"rule","color":"black","strokeWidth":2},"encoding":{
  "x":{"datum":0.18,"type":"quantitative","scale":{"type":"log","domain":[0.1,10],"nice":false},"axis":{"orient":"bottom","values":[1,10],"ticks":false,"domain":false,"labelPadding":17,"labelBaseline":"alphabetic","labelFontSize":11.5,"labelOffset":11,"labelExpr":"datum.value < 5 ? '0' : '1'","title":null}},
  "x2":{"datum":10},
  "y":{"datum":0.031,"type":"quantitative","scale":{"type":"log","domain":[0.031,3.2],"nice":false},"axis":{"orient":"left","values":[0.1,1],"ticks":false,"domain":false,"labelPadding":16,"labelAlign":"left","labelBaseline":"alphabetic","labelFontSize":11.5,"labelOffset":-6,"labelExpr":"datum.value < 0.5 ? '-1' : '0'","title":null}}}},
 {"data":{"values":[{}]},"mark":{"type":"rule","opacity":0},"encoding":{
  "x":{"datum":0.18,"type":"quantitative","scale":{"type":"log","domain":[0.1,10],"nice":false},"axis":{"orient":"bottom","values":[0.18,0.3,0.4,0.5,0.6,0.7,0.8,0.9,1,2,3,4,5,6,7,8,9],"labels":false,"domain":false,"tickSize":{"condition":{"test":"datum.value == 1","value":-11},"value":-6},"title":null}},
  "x2":{"datum":10},
  "y":{"datum":0.031,"type":"quantitative","scale":{"type":"log","domain":[0.031,3.2],"nice":false},"axis":{"orient":"left","values":[0.04,0.05,0.06,0.07,0.08,0.09,0.1,0.2,0.3,0.4,0.5,0.6,0.7,0.8,0.9,1,2,3],"labels":false,"domain":false,"tickSize":{"condition":{"test":"datum.value == 1 || datum.value == 0.1","value":-6},"value":-3.5},"title":null}}}},
 {"data":{"values":[{}]},"mark":{"type":"rule","opacity":0},"encoding":{
  "x":{"datum":0.18,"type":"quantitative","scale":{"type":"log","domain":[0.1,10],"nice":false},"axis":{"orient":"top","values":[0.2,0.3,0.4,0.5,0.6,0.7,0.8,0.9,1,2,3,4,5,6,7,8,9],"labels":false,"tickSize":{"condition":{"test":"datum.value == 1","value":-7},"value":-4},"title":null}},
  "x2":{"datum":10},
  "y":{"datum":0.031,"type":"quantitative","scale":{"type":"log","domain":[0.031,3.2],"nice":false},"axis":{"orient":"right","values":[0.04,0.05,0.06,0.07,0.08,0.09,0.1,0.2,0.3,0.4,0.5,0.6,0.7,0.8,0.9,1,2,3],"labels":false,"tickSize":{"condition":{"test":"datum.value == 1 || datum.value == 0.1","value":-6},"value":-3.5},"title":null}}}},
 {"data":{"values":[{}]},"mark":{"type":"rule","opacity":0},"encoding":{
  "x":{"datum":0.18,"type":"quantitative","scale":{"type":"log","domain":[0.1,10],"nice":false},"axis":{"orient":"bottom","values":[0.18],"labels":false,"domain":false,"tickSize":6,"title":null}},
  "x2":{"datum":10},
  "y":{"datum":0.031,"type":"quantitative","scale":{"type":"log","domain":[0.031,3.2],"nice":false},"axis":null}}},
 {"data":{"name":"f"},"transform":[{"filter":"datum.p == 'A2'"}],"mark":{"type":"line","color":"black","strokeWidth":2.3,"clip":true},"encoding":{
  "x":{"field":"x","type":"quantitative","scale":{"type":"log","domain":[0.1,10],"nice":false},"axis":{"orient":"bottom","values":[0.1,1,10],"ticks":false,"domain":false,"labelPadding":32,"labelBaseline":"alphabetic","labelExpr":"datum.value < 0.5 ? 'DC' : '10'","title":"frequency (Hz)","titleFontSize":22.5,"titleBaseline":"alphabetic","titleY":64}},
  "y":{"field":"y","type":"quantitative","scale":{"type":"log","domain":[0.031,3.2],"nice":false},"axis":{"orient":"left","values":[0.1,1],"ticks":false,"domain":true,"labelPadding":17,"labelBaseline":"middle","labelOffset":2,"labelExpr":"'10'","title":null}},
  "strokeDash":{"field":"s","type":"nominal","scale":{"domain":["WN","NS"],"range":[[1,0],[2.5,2.5]]},"legend":null}}}
 ],"resolve":{"axis":{"x":"independent","y":"independent"}}},
{"width":185,"height":238,"layer":[
 {"data":{"values":[{}]},"mark":{"type":"rule","color":"black","strokeWidth":2},"encoding":{
  "x":{"datum":0.18,"type":"quantitative","scale":{"type":"log","domain":[0.1,10],"nice":false},"axis":{"orient":"bottom","values":[1,10],"ticks":false,"domain":false,"labelPadding":17,"labelBaseline":"alphabetic","labelFontSize":11.5,"labelOffset":11,"labelExpr":"datum.value < 5 ? '0' : '1'","title":null}},
  "x2":{"datum":10},
  "y":{"datum":0.031,"type":"quantitative","scale":{"type":"log","domain":[0.031,3.2],"nice":false},"axis":{"orient":"left","values":[0.1,1],"ticks":false,"domain":false,"labelPadding":16,"labelAlign":"left","labelBaseline":"alphabetic","labelFontSize":11.5,"labelOffset":-6,"labelExpr":"datum.value < 0.5 ? '-1' : '0'","title":null}}}},
 {"data":{"values":[{}]},"mark":{"type":"rule","opacity":0},"encoding":{
  "x":{"datum":0.18,"type":"quantitative","scale":{"type":"log","domain":[0.1,10],"nice":false},"axis":{"orient":"bottom","values":[0.18,0.3,0.4,0.5,0.6,0.7,0.8,0.9,1,2,3,4,5,6,7,8,9],"labels":false,"domain":false,"tickSize":{"condition":{"test":"datum.value == 1","value":-11},"value":-6},"title":null}},
  "x2":{"datum":10},
  "y":{"datum":0.031,"type":"quantitative","scale":{"type":"log","domain":[0.031,3.2],"nice":false},"axis":{"orient":"left","values":[0.04,0.05,0.06,0.07,0.08,0.09,0.1,0.2,0.3,0.4,0.5,0.6,0.7,0.8,0.9,1,2,3],"labels":false,"domain":false,"tickSize":{"condition":{"test":"datum.value == 1 || datum.value == 0.1","value":-6},"value":-3.5},"title":null}}}},
 {"data":{"values":[{}]},"mark":{"type":"rule","opacity":0},"encoding":{
  "x":{"datum":0.18,"type":"quantitative","scale":{"type":"log","domain":[0.1,10],"nice":false},"axis":{"orient":"top","values":[0.2,0.3,0.4,0.5,0.6,0.7,0.8,0.9,1,2,3,4,5,6,7,8,9],"labels":false,"tickSize":{"condition":{"test":"datum.value == 1","value":-7},"value":-4},"title":null}},
  "x2":{"datum":10},
  "y":{"datum":0.031,"type":"quantitative","scale":{"type":"log","domain":[0.031,3.2],"nice":false},"axis":{"orient":"right","values":[0.04,0.05,0.06,0.07,0.08,0.09,0.1,0.2,0.3,0.4,0.5,0.6,0.7,0.8,0.9,1,2,3],"labels":false,"tickSize":{"condition":{"test":"datum.value == 1 || datum.value == 0.1","value":-6},"value":-3.5},"title":null}}}},
 {"data":{"values":[{}]},"mark":{"type":"rule","opacity":0},"encoding":{
  "x":{"datum":0.18,"type":"quantitative","scale":{"type":"log","domain":[0.1,10],"nice":false},"axis":{"orient":"bottom","values":[0.18],"labels":false,"domain":false,"tickSize":6,"title":null}},
  "x2":{"datum":10},
  "y":{"datum":0.031,"type":"quantitative","scale":{"type":"log","domain":[0.031,3.2],"nice":false},"axis":null}}},
 {"data":{"name":"f"},"transform":[{"filter":"datum.p == 'A3'"}],"mark":{"type":"line","color":"black","strokeWidth":2.3,"clip":true},"encoding":{
  "x":{"field":"x","type":"quantitative","scale":{"type":"log","domain":[0.1,10],"nice":false},"axis":{"orient":"bottom","values":[0.1,1,10],"ticks":false,"domain":false,"labelPadding":32,"labelBaseline":"alphabetic","labelExpr":"datum.value < 0.5 ? 'DC' : '10'","title":null}},
  "y":{"field":"y","type":"quantitative","scale":{"type":"log","domain":[0.031,3.2],"nice":false},"axis":{"orient":"left","values":[0.1,1],"ticks":false,"domain":true,"labelPadding":17,"labelBaseline":"middle","labelOffset":2,"labelExpr":"'10'","title":null}},
  "strokeDash":{"field":"s","type":"nominal","scale":{"domain":["WN","NS"],"range":[[1,0],[2.5,2.5]]},"legend":null}}}
 ],"resolve":{"axis":{"x":"independent","y":"independent"}}},
{"width":185,"height":115,"data":{"values":[]},"mark":"point"},
{"width":185,"height":115,"data":{"values":[]},"mark":"point"},
{"width":185,"height":115,"data":{"values":[]},"mark":"point"},
{"width":185,"height":236,"layer":[
 {"data":{"values":[{}]},"mark":{"type":"rule","color":"black","strokeWidth":1.3},"encoding":{
  "x":{"datum":0,"type":"quantitative","scale":{"domain":[0,1.2],"nice":false,"zero":false},"axis":{"orient":"top","values":[0.5,1],"labels":false,"tickSize":-6,"title":"spline model","titleFontSize":40,"titleAlign":"left","titleBaseline":"alphabetic","titleX":-23,"titleY":-24,"titleAngle":0}},
  "x2":{"datum":1.2},
  "y":{"datum":0,"type":"quantitative","scale":{"domain":[-0.66,0.745],"nice":false,"zero":false},"axis":{"orient":"right","values":[-0.5,0.5],"labels":false,"tickSize":-6,"title":null}}}},
 {"data":{"name":"t"},"transform":[{"filter":"datum.p == 'B1'"}],"mark":{"type":"line","color":"black","strokeWidth":2.3,"clip":true},"encoding":{
  "x":{"field":"x","type":"quantitative","scale":{"domain":[0,1.2],"nice":false,"zero":false},"axis":{"orient":"bottom","values":[0,0.5,1],"tickSize":-6,"labelPadding":15,"labelExpr":"datum.value == 0 ? '0' : datum.value == 1 ? '1' : '0.5'","title":null}},
  "y":{"field":"y","type":"quantitative","scale":{"domain":[-0.66,0.745],"nice":false,"zero":false},"axis":{"orient":"left","values":[-0.5,0,0.5],"tickSize":-6,"labelPadding":17,"labelExpr":"datum.value == 0 ? '0' : datum.value > 0 ? '0.5' : '-0.5'","title":"B","titleAngle":0,"titleFontSize":28,"titleFontWeight":"bold","titleAlign":"left","titleBaseline":"alphabetic","titleX":-77,"titleY":50.5}},
  "strokeDash":{"field":"s","type":"nominal","scale":{"domain":["WN","NS"],"range":[[1,0],[2.5,2.5]]},"legend":null}}}
 ],"resolve":{"axis":{"x":"independent","y":"independent"}}},
{"width":185,"height":236,"layer":[
 {"data":{"values":[{}]},"mark":{"type":"rule","color":"black","strokeWidth":1.3},"encoding":{
  "x":{"datum":0,"type":"quantitative","scale":{"domain":[0,1.2],"nice":false,"zero":false},"axis":{"orient":"top","values":[0.5,1],"labels":false,"tickSize":-6,"title":null}},
  "x2":{"datum":1.2},
  "y":{"datum":0,"type":"quantitative","scale":{"domain":[-0.66,0.745],"nice":false,"zero":false},"axis":{"orient":"right","values":[-0.5,0.5],"labels":false,"tickSize":-6,"title":null}}}},
 {"data":{"name":"t"},"transform":[{"filter":"datum.p == 'B2'"}],"mark":{"type":"line","color":"black","strokeWidth":2.3,"clip":true},"encoding":{
  "x":{"field":"x","type":"quantitative","scale":{"domain":[0,1.2],"nice":false,"zero":false},"axis":{"orient":"bottom","values":[0,0.5,1],"tickSize":-6,"labelPadding":15,"labelExpr":"datum.value == 0 ? '0' : datum.value == 1 ? '1' : '0.5'","title":"time (s)","titleFontSize":22.5,"titleBaseline":"alphabetic","titleY":51}},
  "y":{"field":"y","type":"quantitative","scale":{"domain":[-0.66,0.745],"nice":false,"zero":false},"axis":{"orient":"left","values":[-0.5,0,0.5],"tickSize":-6,"labelPadding":17,"labelExpr":"datum.value == 0 ? '0' : datum.value > 0 ? '0.5' : '-0.5'","title":null}},
  "strokeDash":{"field":"s","type":"nominal","scale":{"domain":["WN","NS"],"range":[[1,0],[2.5,2.5]]},"legend":null}}}
 ],"resolve":{"axis":{"x":"independent","y":"independent"}}},
{"width":185,"height":236,"layer":[
 {"data":{"values":[{}]},"mark":{"type":"rule","color":"black","strokeWidth":1.3},"encoding":{
  "x":{"datum":0,"type":"quantitative","scale":{"domain":[0,1.2],"nice":false,"zero":false},"axis":{"orient":"top","values":[0.5,1],"labels":false,"tickSize":-6,"title":null}},
  "x2":{"datum":1.2},
  "y":{"datum":0,"type":"quantitative","scale":{"domain":[-0.66,0.745],"nice":false,"zero":false},"axis":{"orient":"right","values":[-0.5,0.5],"labels":false,"tickSize":-6,"title":null}}}},
 {"data":{"name":"t"},"transform":[{"filter":"datum.p == 'B3'"}],"mark":{"type":"line","color":"black","strokeWidth":2.3,"clip":true},"encoding":{
  "x":{"field":"x","type":"quantitative","scale":{"domain":[0,1.2],"nice":false,"zero":false},"axis":{"orient":"bottom","values":[0,0.5,1],"tickSize":-6,"labelPadding":15,"labelExpr":"datum.value == 0 ? '0' : datum.value == 1 ? '1' : '0.5'","title":null}},
  "y":{"field":"y","type":"quantitative","scale":{"domain":[-0.66,0.745],"nice":false,"zero":false},"axis":{"orient":"left","values":[-0.5,0,0.5],"tickSize":-6,"labelPadding":17,"labelExpr":"datum.value == 0 ? '0' : datum.value > 0 ? '0.5' : '-0.5'","title":null}},
  "strokeDash":{"field":"s","type":"nominal","scale":{"domain":["WN","NS"],"range":[[1,0],[2.5,2.5]]},"legend":null}}}
 ],"resolve":{"axis":{"x":"independent","y":"independent"}}},
{"width":185,"height":84,"data":{"values":[]},"mark":"point"},
{"width":185,"height":84,"data":{"values":[]},"mark":"point"},
{"width":185,"height":84,"data":{"values":[]},"mark":"point"},
{"width":185,"height":237,"layer":[
 {"data":{"values":[{}]},"mark":{"type":"rule","color":"black","strokeWidth":2},"encoding":{
  "x":{"datum":0.18,"type":"quantitative","scale":{"type":"log","domain":[0.1,10],"nice":false},"axis":{"orient":"bottom","values":[1,10],"ticks":false,"domain":false,"labelPadding":17,"labelBaseline":"alphabetic","labelFontSize":11.5,"labelOffset":11,"labelExpr":"datum.value < 5 ? '0' : '1'","title":null}},
  "x2":{"datum":10},
  "y":{"datum":0.031,"type":"quantitative","scale":{"type":"log","domain":[0.031,3.2],"nice":false},"axis":{"orient":"left","values":[0.1,1],"ticks":false,"domain":false,"labelPadding":16,"labelAlign":"left","labelBaseline":"alphabetic","labelFontSize":11.5,"labelOffset":-6,"labelExpr":"datum.value < 0.5 ? '-1' : '0'","title":null}}}},
 {"data":{"values":[{}]},"mark":{"type":"rule","opacity":0},"encoding":{
  "x":{"datum":0.18,"type":"quantitative","scale":{"type":"log","domain":[0.1,10],"nice":false},"axis":{"orient":"bottom","values":[0.18,0.3,0.4,0.5,0.6,0.7,0.8,0.9,1,2,3,4,5,6,7,8,9],"labels":false,"domain":false,"tickSize":{"condition":{"test":"datum.value == 1","value":-11},"value":-6},"title":null}},
  "x2":{"datum":10},
  "y":{"datum":0.031,"type":"quantitative","scale":{"type":"log","domain":[0.031,3.2],"nice":false},"axis":{"orient":"left","values":[0.04,0.05,0.06,0.07,0.08,0.09,0.1,0.2,0.3,0.4,0.5,0.6,0.7,0.8,0.9,1,2,3],"labels":false,"domain":false,"tickSize":{"condition":{"test":"datum.value == 1 || datum.value == 0.1","value":-6},"value":-3.5},"title":null}}}},
 {"data":{"values":[{}]},"mark":{"type":"rule","opacity":0},"encoding":{
  "x":{"datum":0.18,"type":"quantitative","scale":{"type":"log","domain":[0.1,10],"nice":false},"axis":{"orient":"top","values":[0.2,0.3,0.4,0.5,0.6,0.7,0.8,0.9,1,2,3,4,5,6,7,8,9],"labels":false,"tickSize":{"condition":{"test":"datum.value == 1","value":-7},"value":-4},"title":null}},
  "x2":{"datum":10},
  "y":{"datum":0.031,"type":"quantitative","scale":{"type":"log","domain":[0.031,3.2],"nice":false},"axis":{"orient":"right","values":[0.04,0.05,0.06,0.07,0.08,0.09,0.1,0.2,0.3,0.4,0.5,0.6,0.7,0.8,0.9,1,2,3],"labels":false,"tickSize":{"condition":{"test":"datum.value == 1 || datum.value == 0.1","value":-6},"value":-3.5},"title":null}}}},
 {"data":{"values":[{}]},"mark":{"type":"rule","opacity":0},"encoding":{
  "x":{"datum":0.18,"type":"quantitative","scale":{"type":"log","domain":[0.1,10],"nice":false},"axis":{"orient":"bottom","values":[0.18],"labels":false,"domain":false,"tickSize":6,"title":null}},
  "x2":{"datum":10},
  "y":{"datum":0.031,"type":"quantitative","scale":{"type":"log","domain":[0.031,3.2],"nice":false},"axis":null}}},
 {"data":{"name":"f"},"transform":[{"filter":"datum.p == 'B1'"}],"mark":{"type":"line","color":"black","strokeWidth":2.3,"clip":true},"encoding":{
  "x":{"field":"x","type":"quantitative","scale":{"type":"log","domain":[0.1,10],"nice":false},"axis":{"orient":"bottom","values":[0.1,1,10],"ticks":false,"domain":false,"labelPadding":32,"labelBaseline":"alphabetic","labelExpr":"datum.value < 0.5 ? 'DC' : '10'","title":null}},
  "y":{"field":"y","type":"quantitative","scale":{"type":"log","domain":[0.031,3.2],"nice":false},"axis":{"orient":"left","values":[0.1,1],"ticks":false,"domain":true,"labelPadding":17,"labelBaseline":"middle","labelOffset":2,"labelExpr":"'10'","title":"amplitude","titleFontSize":30,"titleAngle":-90,"titleAlign":"center","titleBaseline":"alphabetic","titleX":-60,"titleY":-31}},
  "strokeDash":{"field":"s","type":"nominal","scale":{"domain":["WN","NS"],"range":[[1,0],[2.5,2.5]]},"legend":null}}}
 ],"resolve":{"axis":{"x":"independent","y":"independent"}}},
{"width":185,"height":237,"layer":[
 {"data":{"values":[{}]},"mark":{"type":"rule","color":"black","strokeWidth":2},"encoding":{
  "x":{"datum":0.18,"type":"quantitative","scale":{"type":"log","domain":[0.1,10],"nice":false},"axis":{"orient":"bottom","values":[1,10],"ticks":false,"domain":false,"labelPadding":17,"labelBaseline":"alphabetic","labelFontSize":11.5,"labelOffset":11,"labelExpr":"datum.value < 5 ? '0' : '1'","title":null}},
  "x2":{"datum":10},
  "y":{"datum":0.031,"type":"quantitative","scale":{"type":"log","domain":[0.031,3.2],"nice":false},"axis":{"orient":"left","values":[0.1,1],"ticks":false,"domain":false,"labelPadding":16,"labelAlign":"left","labelBaseline":"alphabetic","labelFontSize":11.5,"labelOffset":-6,"labelExpr":"datum.value < 0.5 ? '-1' : '0'","title":null}}}},
 {"data":{"values":[{}]},"mark":{"type":"rule","opacity":0},"encoding":{
  "x":{"datum":0.18,"type":"quantitative","scale":{"type":"log","domain":[0.1,10],"nice":false},"axis":{"orient":"bottom","values":[0.18,0.3,0.4,0.5,0.6,0.7,0.8,0.9,1,2,3,4,5,6,7,8,9],"labels":false,"domain":false,"tickSize":{"condition":{"test":"datum.value == 1","value":-11},"value":-6},"title":null}},
  "x2":{"datum":10},
  "y":{"datum":0.031,"type":"quantitative","scale":{"type":"log","domain":[0.031,3.2],"nice":false},"axis":{"orient":"left","values":[0.04,0.05,0.06,0.07,0.08,0.09,0.1,0.2,0.3,0.4,0.5,0.6,0.7,0.8,0.9,1,2,3],"labels":false,"domain":false,"tickSize":{"condition":{"test":"datum.value == 1 || datum.value == 0.1","value":-6},"value":-3.5},"title":null}}}},
 {"data":{"values":[{}]},"mark":{"type":"rule","opacity":0},"encoding":{
  "x":{"datum":0.18,"type":"quantitative","scale":{"type":"log","domain":[0.1,10],"nice":false},"axis":{"orient":"top","values":[0.2,0.3,0.4,0.5,0.6,0.7,0.8,0.9,1,2,3,4,5,6,7,8,9],"labels":false,"tickSize":{"condition":{"test":"datum.value == 1","value":-7},"value":-4},"title":null}},
  "x2":{"datum":10},
  "y":{"datum":0.031,"type":"quantitative","scale":{"type":"log","domain":[0.031,3.2],"nice":false},"axis":{"orient":"right","values":[0.04,0.05,0.06,0.07,0.08,0.09,0.1,0.2,0.3,0.4,0.5,0.6,0.7,0.8,0.9,1,2,3],"labels":false,"tickSize":{"condition":{"test":"datum.value == 1 || datum.value == 0.1","value":-6},"value":-3.5},"title":null}}}},
 {"data":{"values":[{}]},"mark":{"type":"rule","opacity":0},"encoding":{
  "x":{"datum":0.18,"type":"quantitative","scale":{"type":"log","domain":[0.1,10],"nice":false},"axis":{"orient":"bottom","values":[0.18],"labels":false,"domain":false,"tickSize":6,"title":null}},
  "x2":{"datum":10},
  "y":{"datum":0.031,"type":"quantitative","scale":{"type":"log","domain":[0.031,3.2],"nice":false},"axis":null}}},
 {"data":{"name":"f"},"transform":[{"filter":"datum.p == 'B2'"}],"mark":{"type":"line","color":"black","strokeWidth":2.3,"clip":true},"encoding":{
  "x":{"field":"x","type":"quantitative","scale":{"type":"log","domain":[0.1,10],"nice":false},"axis":{"orient":"bottom","values":[0.1,1,10],"ticks":false,"domain":false,"labelPadding":32,"labelBaseline":"alphabetic","labelExpr":"datum.value < 0.5 ? 'DC' : '10'","title":"frequency (Hz)","titleFontSize":22.5,"titleBaseline":"alphabetic","titleY":54}},
  "y":{"field":"y","type":"quantitative","scale":{"type":"log","domain":[0.031,3.2],"nice":false},"axis":{"orient":"left","values":[0.1,1],"ticks":false,"domain":true,"labelPadding":17,"labelBaseline":"middle","labelOffset":2,"labelExpr":"'10'","title":null}},
  "strokeDash":{"field":"s","type":"nominal","scale":{"domain":["WN","NS"],"range":[[1,0],[2.5,2.5]]},"legend":null}}}
 ],"resolve":{"axis":{"x":"independent","y":"independent"}}},
{"width":185,"height":237,"layer":[
 {"data":{"values":[{}]},"mark":{"type":"rule","color":"black","strokeWidth":2},"encoding":{
  "x":{"datum":0.18,"type":"quantitative","scale":{"type":"log","domain":[0.1,10],"nice":false},"axis":{"orient":"bottom","values":[1,10],"ticks":false,"domain":false,"labelPadding":17,"labelBaseline":"alphabetic","labelFontSize":11.5,"labelOffset":11,"labelExpr":"datum.value < 5 ? '0' : '1'","title":null}},
  "x2":{"datum":10},
  "y":{"datum":0.031,"type":"quantitative","scale":{"type":"log","domain":[0.031,3.2],"nice":false},"axis":{"orient":"left","values":[0.1,1],"ticks":false,"domain":false,"labelPadding":16,"labelAlign":"left","labelBaseline":"alphabetic","labelFontSize":11.5,"labelOffset":-6,"labelExpr":"datum.value < 0.5 ? '-1' : '0'","title":null}}}},
 {"data":{"values":[{}]},"mark":{"type":"rule","opacity":0},"encoding":{
  "x":{"datum":0.18,"type":"quantitative","scale":{"type":"log","domain":[0.1,10],"nice":false},"axis":{"orient":"bottom","values":[0.18,0.3,0.4,0.5,0.6,0.7,0.8,0.9,1,2,3,4,5,6,7,8,9],"labels":false,"domain":false,"tickSize":{"condition":{"test":"datum.value == 1","value":-11},"value":-6},"title":null}},
  "x2":{"datum":10},
  "y":{"datum":0.031,"type":"quantitative","scale":{"type":"log","domain":[0.031,3.2],"nice":false},"axis":{"orient":"left","values":[0.04,0.05,0.06,0.07,0.08,0.09,0.1,0.2,0.3,0.4,0.5,0.6,0.7,0.8,0.9,1,2,3],"labels":false,"domain":false,"tickSize":{"condition":{"test":"datum.value == 1 || datum.value == 0.1","value":-6},"value":-3.5},"title":null}}}},
 {"data":{"values":[{}]},"mark":{"type":"rule","opacity":0},"encoding":{
  "x":{"datum":0.18,"type":"quantitative","scale":{"type":"log","domain":[0.1,10],"nice":false},"axis":{"orient":"top","values":[0.2,0.3,0.4,0.5,0.6,0.7,0.8,0.9,1,2,3,4,5,6,7,8,9],"labels":false,"tickSize":{"condition":{"test":"datum.value == 1","value":-7},"value":-4},"title":null}},
  "x2":{"datum":10},
  "y":{"datum":0.031,"type":"quantitative","scale":{"type":"log","domain":[0.031,3.2],"nice":false},"axis":{"orient":"right","values":[0.04,0.05,0.06,0.07,0.08,0.09,0.1,0.2,0.3,0.4,0.5,0.6,0.7,0.8,0.9,1,2,3],"labels":false,"tickSize":{"condition":{"test":"datum.value == 1 || datum.value == 0.1","value":-6},"value":-3.5},"title":null}}}},
 {"data":{"values":[{}]},"mark":{"type":"rule","opacity":0},"encoding":{
  "x":{"datum":0.18,"type":"quantitative","scale":{"type":"log","domain":[0.1,10],"nice":false},"axis":{"orient":"bottom","values":[0.18],"labels":false,"domain":false,"tickSize":6,"title":null}},
  "x2":{"datum":10},
  "y":{"datum":0.031,"type":"quantitative","scale":{"type":"log","domain":[0.031,3.2],"nice":false},"axis":null}}},
 {"data":{"name":"f"},"transform":[{"filter":"datum.p == 'B3'"}],"mark":{"type":"line","color":"black","strokeWidth":2.3,"clip":true},"encoding":{
  "x":{"field":"x","type":"quantitative","scale":{"type":"log","domain":[0.1,10],"nice":false},"axis":{"orient":"bottom","values":[0.1,1,10],"ticks":false,"domain":false,"labelPadding":32,"labelBaseline":"alphabetic","labelExpr":"datum.value < 0.5 ? 'DC' : '10'","title":null}},
  "y":{"field":"y","type":"quantitative","scale":{"type":"log","domain":[0.031,3.2],"nice":false},"axis":{"orient":"left","values":[0.1,1],"ticks":false,"domain":true,"labelPadding":17,"labelBaseline":"middle","labelOffset":2,"labelExpr":"'10'","title":null}},
  "strokeDash":{"field":"s","type":"nominal","scale":{"domain":["WN","NS"],"range":[[1,0],[2.5,2.5]]},"legend":null}}}
 ],"resolve":{"axis":{"x":"independent","y":"independent"}}}
],
"config":{
 "view":{"stroke":null},
 "font":"Liberation Sans",
 "line":{"strokeCap":"butt"},
 "axis":{"domainColor":"black","domainWidth":2,"tickColor":"black","tickWidth":1.8,"labelColor":"black","labelFont":"Liberation Sans","labelFontSize":17,"titleColor":"black","titleFont":"Liberation Sans","titleFontWeight":"normal","grid":false,"labelFlush":false,"labelOverlap":false,"labelBound":false}
}
}
